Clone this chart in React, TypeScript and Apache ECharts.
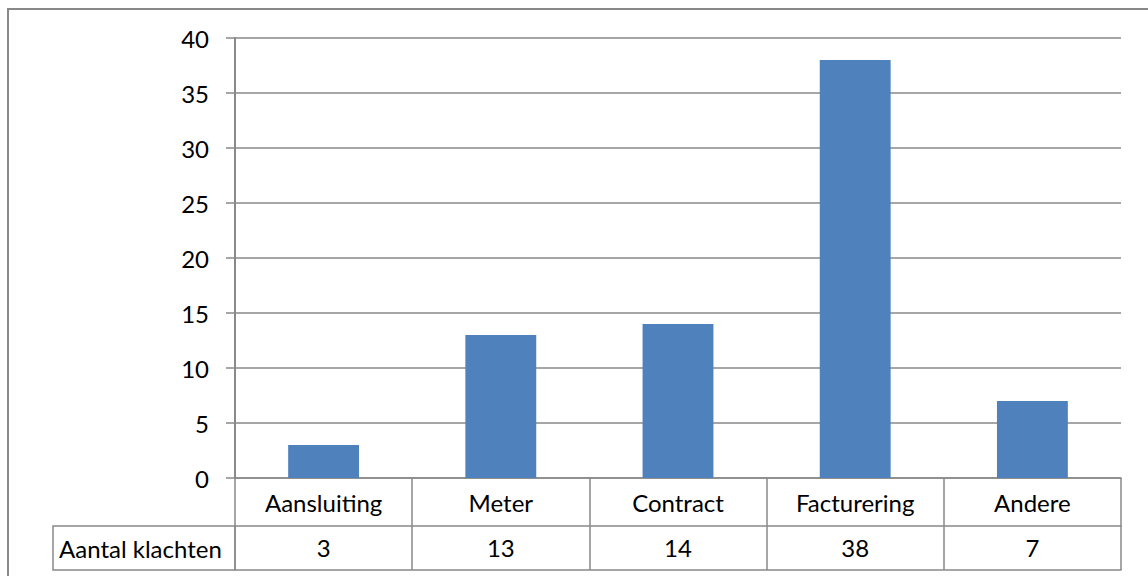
import React, { useEffect, useRef } from "react";
import * as echarts from "echarts";

const categories = ["Aansluiting", "Meter", "Contract", "Facturering", "Andere"];
const values = [3, 13, 14, 38, 7];
const seriesName = "Aantal klachten";
const yMin = 0;
const yMax = 40;
const yInterval = 5;

const FONT = "Lato, 'Open Sans', sans-serif";
const GRAY = "#898989";

export default function App() {
  const ref = useRef<HTMLDivElement>(null);
  useEffect(() => {
    if (!ref.current) return;
    const chart = echarts.init(ref.current, undefined, { renderer: "svg" });
    const option: any = {
      animation: false,
      backgroundColor: "#ffffff",
      textStyle: { fontFamily: FONT, color: "#000" },
      grid: { left: 235, right: 27, top: 38, bottom: 98, containLabel: false },
      xAxis: [
        {
          type: "category",
          data: categories,
          position: "bottom",
          boundaryGap: true,
          axisLine: { show: true, lineStyle: { color: GRAY, width: 1.5 } },
          axisTick: { show: true, length: 48, lineStyle: { color: GRAY, width: 1.5 } },
          axisLabel: {
            fontFamily: FONT,
            fontSize: 24,
            color: "#000",
            margin: 24,
            verticalAlign: "middle",
          },
        },
        {
          type: "category",
          data: values.map((v) => String(v)),
          position: "bottom",
          offset: 48,
          boundaryGap: true,
          axisLine: { show: true, lineStyle: { color: GRAY, width: 1.5 } },
          axisTick: { show: true, length: 44, lineStyle: { color: GRAY, width: 1.5 } },
          axisLabel: {
            fontFamily: FONT,
            fontSize: 24,
            color: "#000",
            margin: 21,
            verticalAlign: "middle",
          },
        },
        {
          type: "category",
          data: categories,
          position: "bottom",
          offset: 92,
          axisLine: { show: true, lineStyle: { color: GRAY, width: 1.5 } },
          axisTick: { show: false },
          axisLabel: { show: false },
        },
      ],
      yAxis: {
        type: "value",
        min: yMin,
        max: yMax,
        interval: yInterval,
        axisLine: { show: true, lineStyle: { color: GRAY, width: 2 } },
        axisTick: { show: true, length: 9, lineStyle: { color: GRAY, width: 1.5 } },
        splitLine: { show: true, lineStyle: { color: GRAY, width: 1.5 } },
        axisLabel: { fontFamily: FONT, fontSize: 24, color: "#000", margin: 26 },
      },
      series: [
        {
          name: seriesName,
          type: "bar",
          data: values,
          barWidth: "40%",
          itemStyle: { color: "#4f81bd" },
        },
      ],
      graphic: [
        {
          type: "rect",
          shape: { x: 8, y: 9, width: 1160, height: 600 },
          style: { fill: "none", stroke: "#888888", lineWidth: 2 },
          silent: true,
        },
        {
          type: "rect",
          shape: { x: 53, y: 526, width: 182, height: 44 },
          style: { fill: "none", stroke: GRAY, lineWidth: 1.5 },
          silent: true,
        },
        {
          type: "text",
          x: 59,
          y: 548,
          style: {
            text: seriesName,
            fontFamily: FONT,
            fontSize: 24,
            fill: "#000",
            verticalAlign: "middle",
            align: "left",
          },
          silent: true,
        },
      ],
    };
    chart.setOption(option);
    return () => chart.dispose();
  }, []);
  return (
    <div
      ref={ref}
      style={{ position: "fixed", left: 0, top: 0, width: 1148, height: 576 }}
    />
  );
}
